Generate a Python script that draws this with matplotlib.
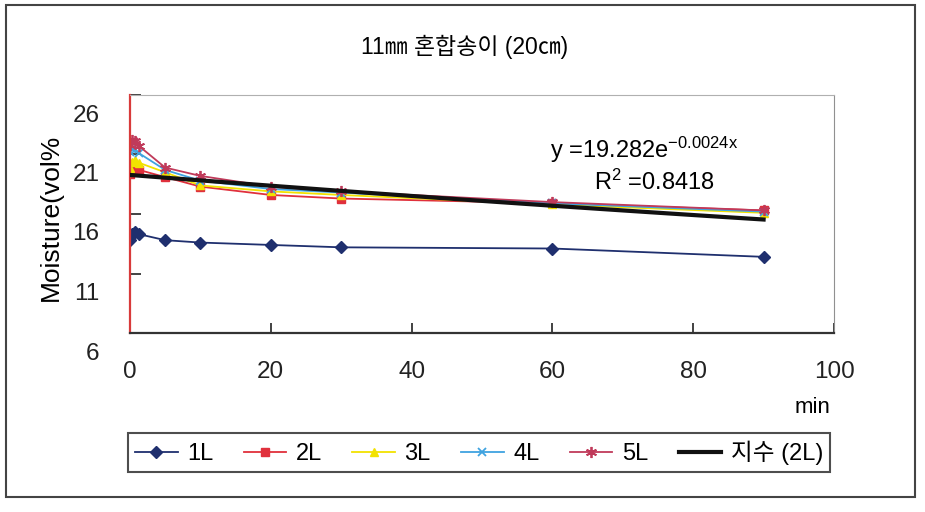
import numpy as np
import matplotlib
matplotlib.use('Agg')
import matplotlib.pyplot as plt
import matplotlib.transforms as mtransforms
from matplotlib.patches import Rectangle

plt.rcParams['font.family'] = ['Liberation Sans', 'Noto Sans CJK KR']
plt.rcParams['mathtext.default'] = 'regular'

# 데이터
minutes = [0, 0.3, 0.7, 1.3, 5, 10, 20, 30, 60, 90]
moist_1L = [13.8, 14.3, 14.5, 14.3, 13.8, 13.6, 13.4, 13.2, 13.1, 12.4]
moist_2L = [19.4, 19.7, 19.8, 19.7, 19.1, 18.3, 17.6, 17.3, 16.9, 16.3]
moist_3L = [19.9, 20.4, 20.5, 20.3, 19.5, 18.4, 17.9, 17.6, 16.8, 16.1]
moist_4L = [21.2, 21.5, 21.4, 21.1, 19.7, 18.8, 18.1, 17.8, 16.9, 16.2]
moist_5L = [21.8, 22.2, 22.1, 21.7, 19.9, 19.2, 18.3, 17.9, 17.0, 16.3]

# 지수 추세선 (2L)
trend_a = 19.282
trend_b = -0.0024
trend_r2 = 0.8418
trend_range = [0, 90]

y_ticks = [6, 11, 16, 21, 26]
x_ticks = [0, 20, 40, 60, 80, 100]

fig = plt.figure(figsize=(9.25, 5.12), dpi=100)
ax = fig.add_axes([130 / 925, 1 - 333 / 512, 704 / 925, 238 / 512])

ax.plot(minutes, moist_1L, color='#1f2f6e', marker='D', ms=6, lw=1.3, label='1L')
ax.plot(minutes, moist_2L, color='#e0303c', marker='s', ms=6, lw=1.3, label='2L')
ax.plot(minutes, moist_3L, color='#f2e200', marker='^', ms=6, lw=1.3, label='3L')
ax.plot(minutes, moist_4L, color='#3fa3e0', marker='x', ms=6, mew=1.3, lw=1.3, label='4L')
ax.plot(minutes, moist_5L, color='#c03a5a', marker=(6, 2, 0), ms=8, mew=1.3, lw=1.3, label='5L')

tx = np.linspace(trend_range[0], trend_range[1], 100)
ax.plot(tx, trend_a * np.exp(trend_b * tx), color='#111111', lw=3, label='지수 (2L)', zorder=5)

ax.text(0.73, 0.77, 'y =%.3fe$^{%.4fx}$' % (trend_a, trend_b), transform=ax.transAxes,
        ha='center', va='center', fontsize=17)
ax.text(0.745, 0.635, 'R$^{2}$ =%.4f' % trend_r2, transform=ax.transAxes,
        ha='center', va='center', fontsize=17)

ax.set_xlim(0, 100)
ax.set_ylim(6, 26)
ax.set_xticks(x_ticks)
ax.set_yticks(y_ticks)
ax.tick_params(direction='in', labelsize=17.5, colors='#222222')
ax.tick_params(axis='y', length=8, width=1.2, pad=22)
ax.tick_params(axis='x', length=7, width=1.2, pad=20)

# y 눈금 라벨이 눈금보다 아래로 밀려 있음
offset = mtransforms.ScaledTranslation(0, -18 / 100, fig.dpi_scale_trans)
for t in ax.yaxis.get_major_ticks():
    t.label1.set_transform(t.label1.get_transform() + offset)

ax.spines['left'].set_color('#d83a3a')
ax.spines['left'].set_linewidth(1.6)
ax.spines['bottom'].set_color('#333333')
ax.spines['bottom'].set_linewidth(1.6)
ax.spines['top'].set_color('#b0b0b0')
ax.spines['right'].set_color('#909090')

ax.set_ylabel('Moisture(vol%', fontsize=19)
ax.yaxis.set_label_coords(-0.095, 0.485)
ax.set_xlabel('min', fontsize=16)
ax.xaxis.set_label_coords(0.97, -0.27)

fig.text(465 / 925, 1 - 47 / 512, '11㎜ 혼합송이 (20㎝)', ha='center', va='center', fontsize=16.5)

leg = fig.legend(loc='lower left', bbox_to_anchor=(128 / 925, 1 - 472 / 512, 702 / 925, 42 / 512),
                 mode='expand', ncol=6, fontsize=17, frameon=True, fancybox=False,
                 handlelength=1.8, handletextpad=0.4, borderaxespad=0, borderpad=0.3)
leg.get_frame().set_edgecolor('#222222')
leg.get_frame().set_linewidth(1.5)

fig.patches.append(Rectangle((6 / 925, 1 - 497 / 512), 909 / 925, 492 / 512, transform=fig.transFigure,
                             fill=False, edgecolor='#444444', lw=1.5))

fig.savefig('out.png', dpi=100)
